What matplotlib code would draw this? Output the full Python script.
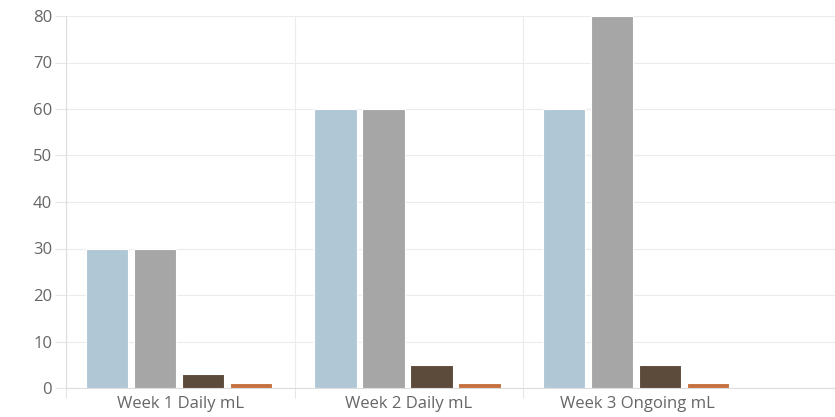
import numpy as np
import matplotlib.pyplot as plt

# dane
categories = ['Week 1 Daily mL', 'Week 2 Daily mL', 'Week 3 Ongoing mL']
series_a = [30, 60, 60]
series_b = [30, 60, 80]
series_c = [3, 5, 5]
series_d = [1, 1, 1]
colors = ['#b0c7d6', '#a6a6a6', '#5c4a3b', '#c4703f']

plt.rcParams['font.family'] = ['Open Sans', 'DejaVu Sans']

fig = plt.figure(figsize=(8.35, 4.17), dpi=100)
ax = fig.add_axes([66 / 835, 1 - 388 / 417, (835 - 66) / 835, (388 - 16) / 417])

x = np.arange(len(categories))
width = 0.185
pitch = 0.21
for i, (vals, c) in enumerate(zip([series_a, series_b, series_c, series_d], colors)):
    ax.bar(x + (i - 1.5) * pitch - 0.005, vals, width, color=c, edgecolor='white', linewidth=0.8, zorder=3)

ax.set_ylim(0, 80)
ax.set_yticks(range(0, 81, 10))
ax.set_xlim(-0.5, -0.5 + (835 - 66) / 228.5)

# siatka pionowa na granicach kategorii
ax.set_xticks([-0.5, 0.5, 1.5])
ax.set_xticklabels([])
ax.set_xticks(x, minor=True)
ax.set_xticklabels(categories, minor=True)
ax.tick_params(axis='x', which='minor', length=0, pad=6, labelsize=12, labelcolor='#666666')
ax.tick_params(axis='x', which='major', length=7, color='#e6e6e6')
ax.tick_params(axis='y', length=8, color='#e6e6e6', labelsize=12, labelcolor='#666666', pad=2)

ax.grid(True, which='major', color='#ececec', linewidth=0.8, zorder=0)
for s in ['top', 'right']:
    ax.spines[s].set_visible(False)
for s in ['left', 'bottom']:
    ax.spines[s].set_color('#dddddd')
    ax.spines[s].set_linewidth(0.8)

fig.savefig('out.png', dpi=100)
